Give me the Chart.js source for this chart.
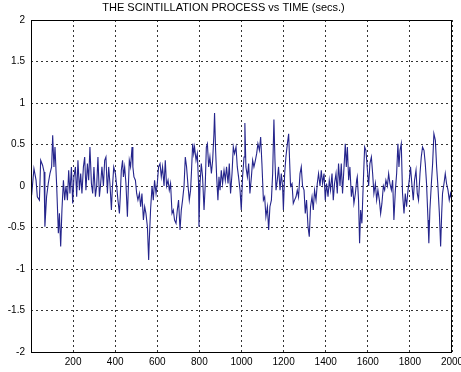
<!DOCTYPE html>
<html>
<head>
<meta charset="utf-8">
<script src="https://cdn.jsdelivr.net/npm/chart.js@4/dist/chart.umd.min.js"></script>
<style>body{margin:0;background:#fff}</style>
</head>
<body>
<canvas id="scint" width="461" height="372"></canvas>
<script>
const chartTitle = 'THE SCINTILLATION PROCESS vs TIME (secs.)';

// time axis (secs), roughly every 6 secs
const timeSecs = [
  3,14,24,30,40,46,55,62,66,74,82,90,98,103,109,114,122,130,135,141,147,154,160,166,173,179,185,192,198,204,
  211,217,223,230,236,242,249,255,261,268,274,280,287,293,299,306,312,318,325,331,337,344,350,356,363,369,375,382,386,393,
  401,407,413,420,424,429,435,439,445,451,458,462,467,473,480,484,489,496,502,508,515,521,527,534,540,546,553,559,562,568,575,581,587,594,
  600,606,613,619,625,632,638,644,651,657,663,670,676,682,689,695,701,708,714,720,727,733,739,746,752,758,762,768,773,777,784,790,796,
  798,803,809,815,822,828,833,838,844,850,857,863,869,872,877,882,888,893,898,904,910,917,923,929,936,942,948,955,961,967,974,980,986,993,
  999,1005,1012,1016,1021,1028,1034,1040,1047,1053,1059,1066,1072,1078,1085,1091,1097,1104,1110,1116,1123,1129,1135,1142,1148,1154,1159,1164,1170,1176,1183,1189,1195,
  1199,1205,1211,1218,1224,1229,1233,1240,1246,1252,1259,1265,1271,1278,1284,1290,1297,1303,1309,1316,1322,1328,1335,1341,1347,1354,1360,1366,1373,1379,1385,1392,
  1398,1404,1411,1417,1423,1430,1436,1442,1449,1455,1461,1468,1474,1480,1487,1493,1498,1503,1509,1515,1522,1528,1534,1541,1547,1550,1556,1561,1566,1572,1579,1585,1591,
  1604,1610,1617,1623,1629,1636,1642,1648,1655,1661,1667,1674,1680,1686,1693,1699,1705,1712,1718,1724,1731,1737,1743,1748,1753,1759,1765,1772,1778,1784,1791,
  1797,1803,1810,1816,1822,1829,1835,1841,1848,1854,1860,1867,1873,1879,1886,1890,1895,1902,1908,1914,1921,1927,1933,1940,1946,1951,1955,1962,1968,1974,1981,1987,1993,2000
];

// scintillation amplitude at each time above
const amplitude = [
  -0.11,0.21,0.07,-0.13,-0.17,0.31,0.25,0.17,-0.49,-0.13,0.03,0.15,0.23,0.61,0.23,0.47,0,-0.57,-0.33,-0.73,-0.29,0.07,-0.17,0,-0.17,0.19,-0.09,0.23,-0.21,0.11,
  0.23,-0.13,0.31,-0.05,0.15,-0.09,0.23,0.35,-0.05,0.27,0.07,0.47,0.03,-0.09,0.23,-0.13,0,0.35,-0.13,0.03,0.23,0,0.31,0.35,-0.09,0.23,0.03,-0.29,-0.05,0.23,
  0.15,0,-0.17,-0.33,-0.13,0.19,0.31,0.11,0.23,0.03,-0.37,-0.05,0.31,0.23,0.47,0.23,0.11,0.07,-0.09,-0.17,-0.09,-0.25,-0.09,-0.41,-0.25,-0.33,-0.49,-0.89,-0.65,-0.29,0,-0.17,0.07,-0.09,
  0.03,0.23,0.27,0.11,0.23,0,0.31,0,0.07,-0.05,0.03,-0.33,-0.29,-0.41,-0.45,-0.29,-0.17,-0.53,-0.29,-0.17,0,0.35,0.23,0,-0.17,-0.05,0.15,0.51,0.39,0.47,0.31,0.39,0.03,
  -0.49,0.03,0.27,0.11,-0.29,0.03,0.47,0.51,0.23,0.35,0.15,0.31,0.63,0.88,0.43,0.11,-0.17,0.11,-0.05,0.19,0.03,0.19,0.07,0.23,0.03,0.27,-0.09,0.15,0.47,0.39,0.47,0.23,0.11,-0.05,
  -0.29,0.11,0.35,0.76,0.23,0.11,0.27,-0.09,0.11,0.31,0.23,0.31,0.39,0.51,0.43,0.59,0.27,-0.17,-0.13,-0.37,-0.25,-0.53,-0.25,-0.17,0.15,0.8,0.31,-0.05,0.07,0.23,-0.05,0.15,0,
  -0.29,0.15,0.35,0.51,0.63,0.27,0,0.03,-0.21,-0.17,-0.13,-0.05,-0.13,0.15,0.23,0,-0.05,-0.33,-0.17,-0.49,-0.61,-0.25,-0.13,-0.29,-0.05,-0.17,0.03,0.15,0,0.19,0.03,0.15,
  -0.17,0.03,-0.13,0.07,-0.05,0.15,-0.17,0.03,0.15,-0.09,0.27,0,0.27,-0.09,0.23,0.51,0.23,0.47,0.07,0.23,-0.13,0,-0.21,-0.09,0.07,0.11,-0.17,-0.69,-0.29,-0.45,0.07,0.47,0.43,
  0,0.27,0.35,0.15,-0.09,0.03,-0.17,-0.05,-0.17,-0.33,-0.21,0,-0.05,0.07,0,0.15,0.03,-0.05,0.07,-0.41,-0.05,0.15,0.51,0.23,0.43,0.51,-0.09,-0.33,-0.09,-0.25,-0.05,
  0.07,0.23,0,-0.17,0.07,0.19,-0.09,-0.17,0.15,0.35,0.47,0.43,0.27,0.03,-0.41,-0.69,-0.29,0.03,0.27,0.63,0.55,0.23,0,-0.33,-0.73,-0.33,-0.09,0.03,0.15,0.03,-0.05,-0.17,-0.09,-0.17
];

const xTickValues = [200, 400, 600, 800, 1000, 1200, 1400, 1600, 1800, 2000];
const yTickValues = [-2, -1.5, -1, -0.5, 0, 0.5, 1, 1.5, 2];

Chart.defaults.font.family = '"Liberation Sans", Arial, sans-serif';
Chart.defaults.font.size = 10;
Chart.defaults.color = '#000';

const ctx = document.getElementById('scint').getContext('2d');
const points = timeSecs.map((t, i) => ({ x: t, y: amplitude[i] }));

// matlab style box round the axes, plus the title
const boxPlugin = {
  id: 'box',
  afterDraw(chart) {
    const c = chart.ctx;
    const a = chart.chartArea;
    c.save();
    c.strokeStyle = '#000';
    c.lineWidth = 1;
    c.strokeRect(a.left + 0.5, a.top + 0.5, a.width - 1, a.height);
    c.fillStyle = '#000';
    c.font = '11px "Liberation Sans", Arial, sans-serif';
    c.textAlign = 'center';
    c.textBaseline = 'middle';
    c.fillText(chartTitle, (a.left + a.right) / 2 - 18, 8);
    c.restore();
  }
};

const chart = new Chart(ctx, {
  type: 'line',
  data: {
    datasets: [{
      data: points,
      borderColor: '#25258c',
      borderWidth: 1.1,
      pointRadius: 0,
      tension: 0,
      fill: false
    }]
  },
  options: {
    responsive: false,
    animation: false,
    layout: { padding: { top: 20, right: 9, left: 0, bottom: 0 } },
    plugins: { legend: { display: false }, tooltip: { enabled: false } },
    scales: {
      x: {
        type: 'linear',
        min: 0,
        max: 2000,
        afterBuildTicks(scale) { scale.ticks = xTickValues.map(v => ({ value: v })); },
        afterFit(scale) { scale.height = 20; scale.paddingLeft = 0; scale.paddingRight = 0; },
        ticks: { maxRotation: 0, autoSkip: false, padding: 4, callback: v => String(v) },
        grid: { color: '#333', lineWidth: 1, drawTicks: false },
        border: { display: false, dash: [2, 3] }
      },
      y: {
        min: -2,
        max: 2,
        afterBuildTicks(scale) { scale.ticks = yTickValues.map(v => ({ value: v })); },
        afterFit(scale) { scale.width = 31; },
        ticks: { padding: 6, callback: v => String(v) },
        grid: { color: '#333', lineWidth: 1, drawTicks: false },
        border: { display: false, dash: [2, 3] }
      }
    }
  },
  plugins: [boxPlugin]
});
</script>
</body>
</html>
